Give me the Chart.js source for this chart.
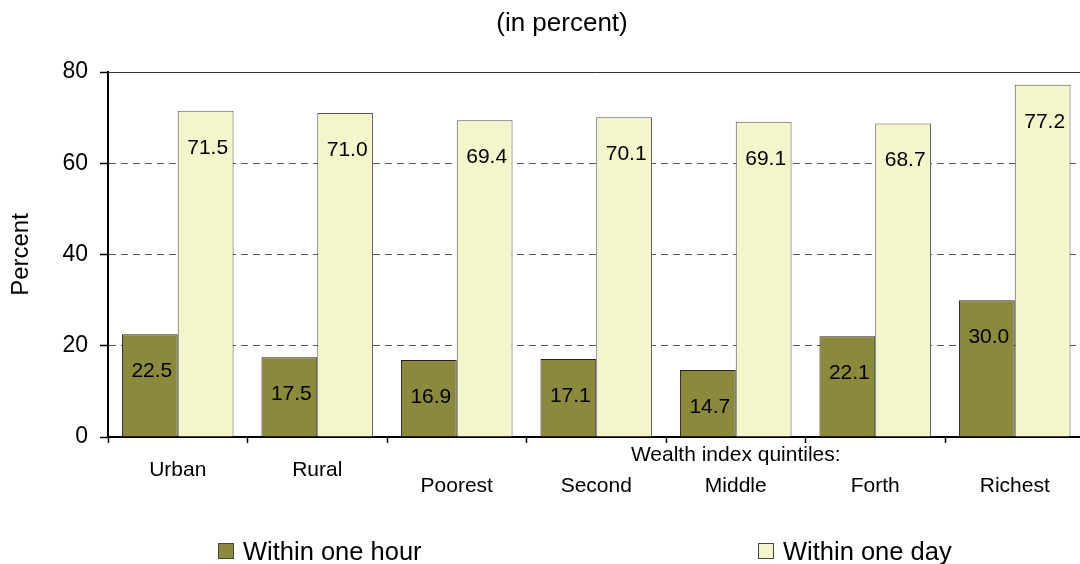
<!DOCTYPE html>
<html>
<head>
<meta charset="utf-8">
<title>Initiation of breastfeeding</title>
<script src="https://cdn.jsdelivr.net/npm/chart.js@4/dist/chart.umd.min.js"></script>
<style>
  html, body { margin: 0; padding: 0; background: #fff; }
  #wrap { position: relative; width: 1080px; height: 564px; overflow: hidden; font-family: "Liberation Sans", Arial, sans-serif; }
  #chart { position: absolute; left: 0; top: 0; }
  #title { position: absolute; left: 0; top: 7px; width: 1124px; text-align: center; font-size: 26px; line-height: 30px; color: #000; }
  .leg { position: absolute; top: 536px; height: 30px; display: flex; align-items: center; font-size: 25.5px; color: #000; }
  .leg i { display: inline-block; width: 14px; height: 14px; border: 1px solid #444; margin-right: 9px; }
</style>
</head>
<body>
<div id="wrap">
  <canvas id="chart" width="1124" height="564"></canvas>
  <div id="title">(in percent)</div>
  <div id="legend"></div>
</div>
<script>
// Timing of first breastfeeding by residence and wealth quintile
const categories = ['Urban', 'Rural', 'Poorest', 'Second', 'Middle', 'Forth', 'Richest'];
const tickLabels = [
  ['', 'Urban'],
  ['', 'Rural'],
  ['', '', 'Poorest'],
  ['', '', 'Second'],
  ['Wealth index quintiles:', '', 'Middle'],
  ['', '', 'Forth'],
  ['', '', 'Richest']
];
const seriesNames = ['Within one hour', 'Within one day'];
const withinOneHour = [22.5, 17.5, 16.9, 17.1, 14.7, 22.1, 30.0];
const withinOneDay = [71.5, 71.0, 69.4, 70.1, 69.1, 68.7, 77.2];
const yTicks = [0, 20, 40, 60, 80];

const FONT = '"Liberation Sans", Arial, sans-serif';
const colors = [
  { fill: '#8B893B', border: '#222222' },
  { fill: '#F5F5CC', border: '#555555' }
];

// Value labels drawn just inside the top of each bar
const barValues = {
  id: 'barValues',
  afterDatasetsDraw(chart) {
    const ctx = chart.ctx;
    ctx.save();
    ctx.font = '21px ' + FONT;
    ctx.fillStyle = '#000';
    ctx.textAlign = 'center';
    ctx.textBaseline = 'middle';
    chart.data.datasets.forEach((ds, di) => {
      chart.getDatasetMeta(di).data.forEach((bar, i) => {
        ctx.fillText(ds.data[i].toFixed(1), bar.x + 2, bar.y + 37);
      });
    });
    ctx.restore();
  }
};

// Solid line closing the top of the plot area
const topFrame = {
  id: 'topFrame',
  afterDraw(chart) {
    const { ctx, chartArea } = chart;
    ctx.save();
    ctx.strokeStyle = '#333';
    ctx.lineWidth = 1;
    ctx.beginPath();
    ctx.moveTo(chartArea.left, Math.round(chartArea.top) + 0.5);
    ctx.lineTo(chartArea.right, Math.round(chartArea.top) + 0.5);
    ctx.stroke();
    ctx.restore();
  }
};

const chart = new Chart(document.getElementById('chart'), {
  type: 'bar',
  data: {
    labels: categories,
    datasets: [
      { label: seriesNames[0], data: withinOneHour, backgroundColor: colors[0].fill, borderColor: colors[0].border, borderWidth: 1 },
      { label: seriesNames[1], data: withinOneDay, backgroundColor: colors[1].fill, borderColor: colors[1].border, borderWidth: 1 }
    ]
  },
  options: {
    responsive: false,
    animation: false,
    devicePixelRatio: 1,
    layout: { padding: { left: 0, right: 39.5, top: 72, bottom: 0 } },
    datasets: { bar: { categoryPercentage: 0.8, barPercentage: 1.0 } },
    plugins: {
      legend: { display: false },
      title: { display: false },
      tooltip: { enabled: false }
    },
    scales: {
      x: {
        type: 'category',
        afterFit(scale) { scale.height = 127; },
        border: { display: true, color: '#000', width: 2 },
        grid: {
          display: true,
          offset: true,
          drawOnChartArea: false,
          drawTicks: true,
          tickLength: 6,
          tickColor: '#000',
          tickWidth: 1.5,
          tickBorderDash: []
        },
        ticks: {
          autoSkip: false,
          maxRotation: 0,
          minRotation: 0,
          padding: 4,
          color: '#000',
          font: { family: FONT, size: 21, lineHeight: 0.74 },
          callback: (v, i) => tickLabels[i]
        }
      },
      y: {
        min: 0,
        max: 80,
        afterFit(scale) { scale.width = 108; },
        afterBuildTicks(scale) { scale.ticks = yTicks.map(v => ({ value: v })); },
        border: { display: true, color: '#000', width: 2, dash: [7, 5] },
        grid: {
          display: true,
          drawOnChartArea: true,
          drawTicks: true,
          tickLength: 8,
          tickColor: '#000',
          tickWidth: 1.5,
          tickBorderDash: [],
          color: ctx => (ctx.tick && ctx.tick.value === 0) ? 'rgba(0,0,0,0)' : '#555',
          lineWidth: 1
        },
        ticks: {
          padding: 12,
          color: '#000',
          font: { family: FONT, size: 23 }
        },
        title: {
          display: true,
          text: 'Percent',
          color: '#000',
          padding: { top: 7, bottom: 0 },
          font: { family: FONT, size: 24 }
        }
      }
    }
  },
  plugins: [barValues, topFrame]
});

// Legend built from the chart's own datasets
const legendEl = document.getElementById('legend');
const legendLeft = [218, 758];
chart.data.datasets.forEach((ds, i) => {
  const item = document.createElement('div');
  item.className = 'leg';
  item.style.left = legendLeft[i] + 'px';
  const sw = document.createElement('i');
  sw.style.background = ds.backgroundColor;
  item.appendChild(sw);
  item.appendChild(document.createTextNode(ds.label));
  legendEl.appendChild(item);
});
</script>
</body>
</html>
